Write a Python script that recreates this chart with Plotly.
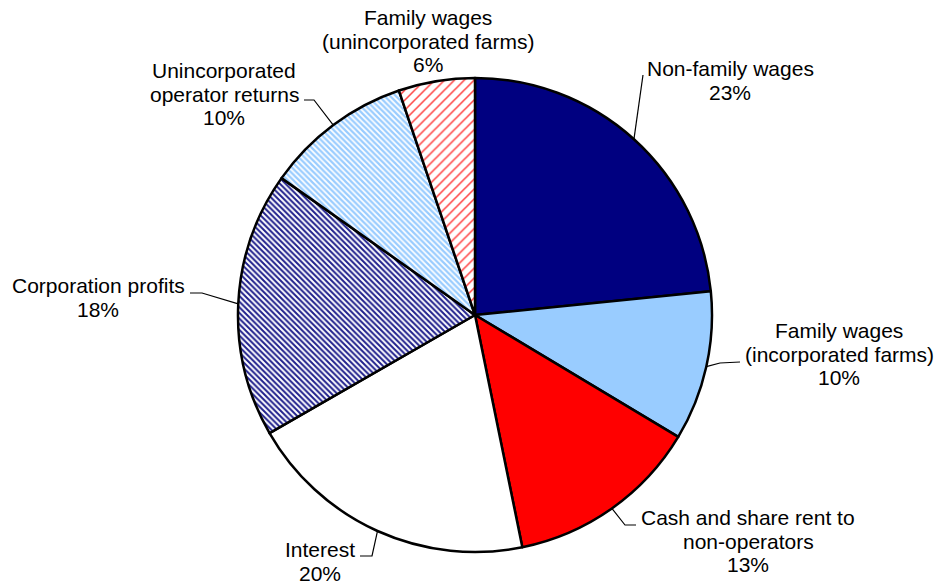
import math
import plotly.graph_objects as go

# ---- data ----
categories = [
    "Non-family wages",
    "Family wages\n(incorporated farms)",
    "Cash and share rent to\nnon-operators",
    "Interest",
    "Corporation profits",
    "Unincorporated\noperator returns",
    "Family wages\n(unincorporated farms)",
]
shares = [23.4, 10.2, 13.2, 19.9, 18.1, 10.0, 5.2]
pct_labels = ["23%", "10%", "13%", "20%", "18%", "10%", "6%"]

# ---- styles ----
fill_colors = ["#000080", "#99CCFF", "#FF0000", "#FFFFFF", "#FFFFFF", "#FFFFFF", "#FFFFFF"]
pat_shapes = ["", "", "", "", "\\", "\\", "/"]
pat_fg = ["#000080", "#99CCFF", "#FF0000", "#000000", "#20208C", "#99CCFF", "#FF4040"]
pat_size = [4, 4, 4, 4, 4, 4, 7]
pat_solid = [0.5, 0.5, 0.5, 0.5, 0.5, 0.55, 0.22]

W, H = 939, 585
CX, CY, R = 475, 315, 237

# label layout (pixel positions): centre x, first baseline y, leader path points
label_pos = [
    (730, 76, [(643, 75)]),
    (839, 338, [(720, 363), (740, 362)]),
    (748, 525, [(625, 525), (636, 525)]),
    (320, 557, [(372, 556), (360, 556)]),
    (98, 293, [(202, 293), (190, 293)]),
    (224, 78, [(314, 100), (304, 100)]),
    (428, 25, []),
]
LINE_STEP = 23.5
FONT = dict(family="Arial, Liberation Sans, sans-serif", size=21, color="black")


def px(x):
    return x / W


def py(y):
    return 1 - y / H


fig = go.Figure()
fig.add_trace(go.Pie(
    labels=[c.replace("\n", " ") for c in categories],
    values=shares,
    sort=False,
    direction="clockwise",
    rotation=0,
    textinfo="none",
    hoverinfo="label+percent",
    showlegend=False,
    marker=dict(
        colors=fill_colors,
        line=dict(color="black", width=2.5),
        pattern=dict(shape=pat_shapes, fgcolor=pat_fg, size=pat_size,
                     solidity=pat_solid, fillmode="overlay", fgopacity=1),
    ),
    domain=dict(x=[px(CX - R), px(CX + R)], y=[py(CY + R), py(CY - R)]),
))

total = sum(shares)
cum = 0.0
annotations = []
shapes = []
for i, (cat, v) in enumerate(zip(categories, shares)):
    mid = (cum + v / 2) / total * 2 * math.pi
    cum += v
    sx = CX + R * math.sin(mid)
    sy = CY - R * math.cos(mid)
    cx_lab, base_y, pts = label_pos[i]
    lines = cat.split("\n") + [pct_labels[i]]
    for k, t in enumerate(lines):
        annotations.append(dict(
            x=px(cx_lab), y=py(base_y + k * LINE_STEP - 7.3), xref="paper", yref="paper",
            text=t, showarrow=False, xanchor="center", yanchor="middle", font=FONT,
        ))
    if pts:
        path = "M %.5f %.5f" % (px(sx), py(sy))
        for (qx, qy) in pts:
            path += " L %.5f %.5f" % (px(qx), py(qy))
        shapes.append(dict(type="path", path=path, xref="paper", yref="paper",
                           line=dict(color="black", width=1.2)))

fig.update_layout(
    width=W, height=H,
    margin=dict(l=0, r=0, t=0, b=0),
    paper_bgcolor="white",
    plot_bgcolor="white",
    annotations=annotations,
    shapes=shapes,
)

fig.write_html("out.html", config={"displayModeBar": False},
               post_script="document.body.style.margin='0';")
